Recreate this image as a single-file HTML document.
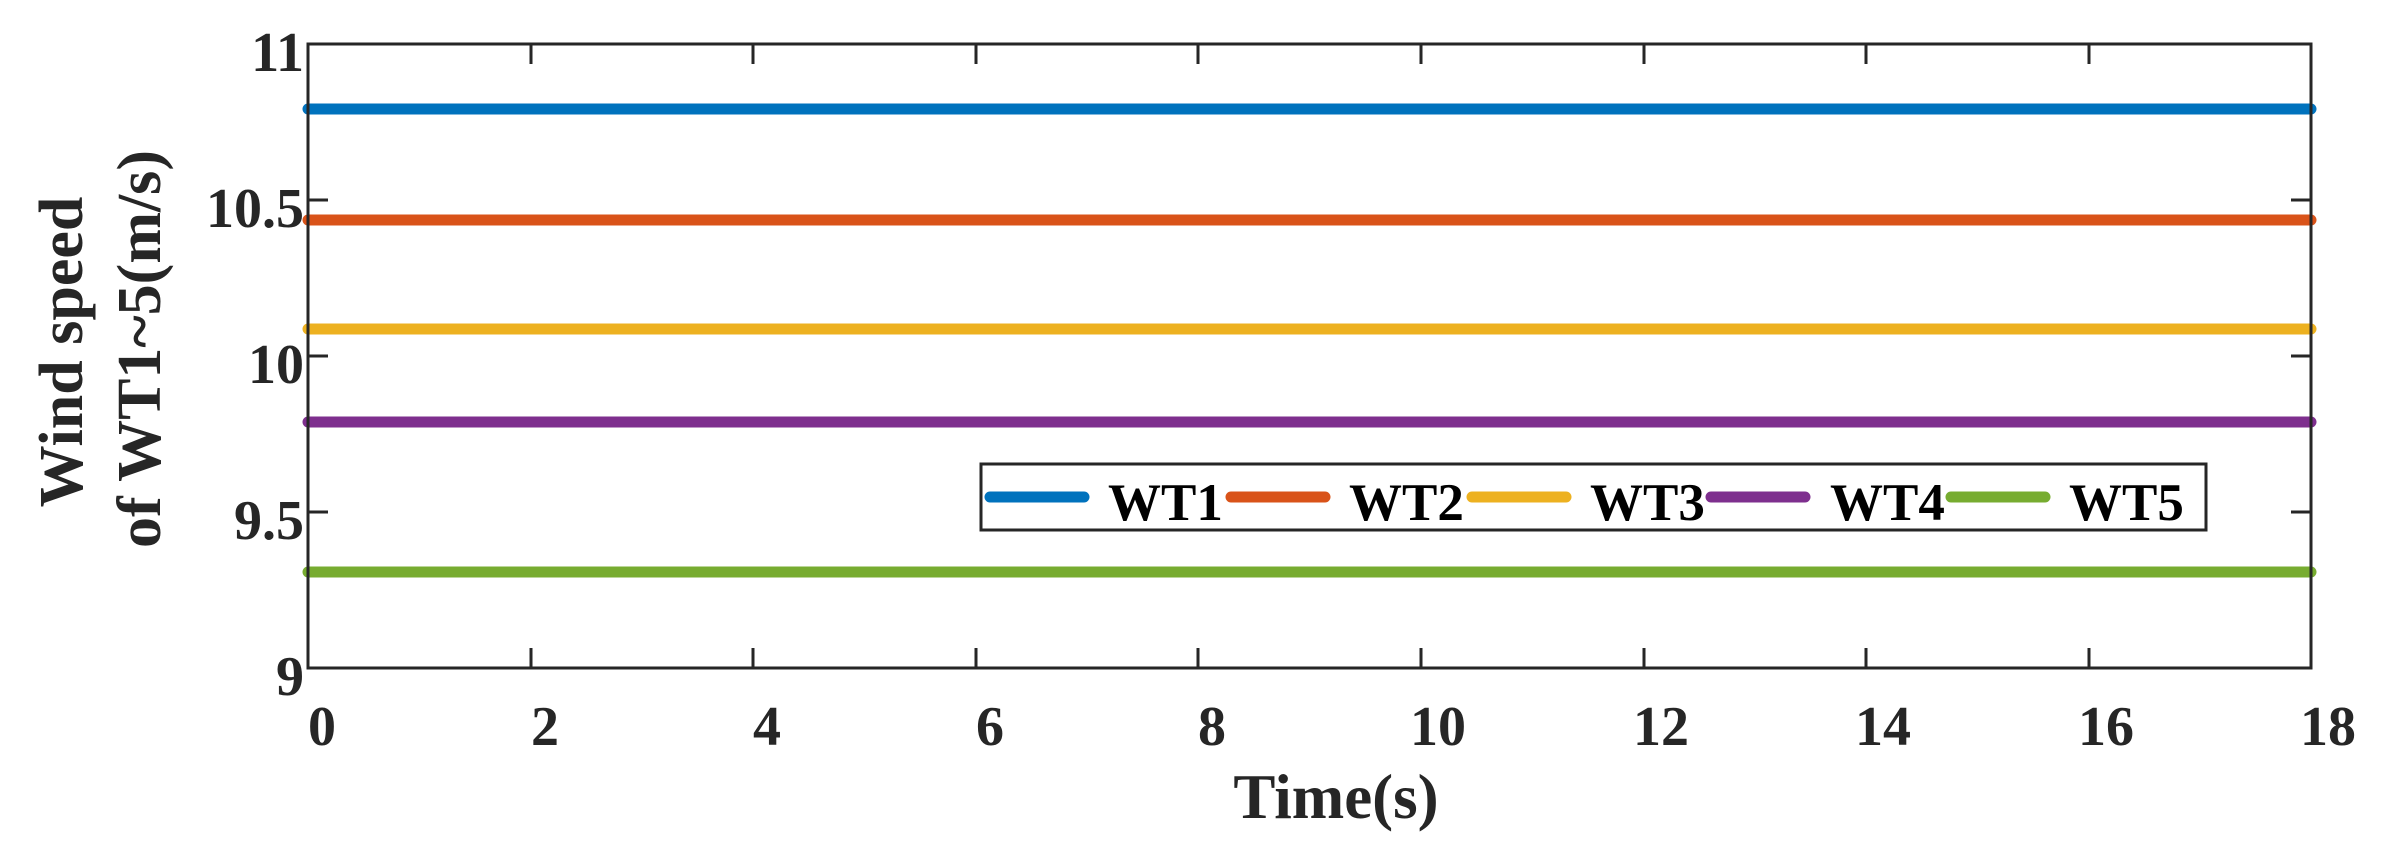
<!DOCTYPE html>
<html><head><meta charset="utf-8"><style>html,body{margin:0;padding:0;background:#fff}svg{display:block}</style></head>
<body>
<svg width="2384" height="851" viewBox="0 0 2384 851" xmlns="http://www.w3.org/2000/svg" font-family="Liberation Serif, serif" font-weight="bold">
<rect width="2384" height="851" fill="#fff"/>
<!-- series -->
<g stroke-width="11" stroke-linecap="round" fill="none">
<line x1="308" y1="109" x2="2311" y2="109" stroke="#0072BD"/>
<line x1="308" y1="220" x2="2311" y2="220" stroke="#D95319"/>
<line x1="308" y1="329" x2="2311" y2="329" stroke="#EDB120"/>
<line x1="308" y1="422" x2="2311" y2="422" stroke="#7E2F8E"/>
<line x1="308" y1="572" x2="2311" y2="572" stroke="#77AC30"/>
</g>
<!-- axes -->
<g stroke="#262626" stroke-width="3" fill="none">
<rect x="308" y="44" width="2003" height="624"/>
<path d="M531 668v-20M753 668v-20M976 668v-20M1198 668v-20M1421 668v-20M1644 668v-20M1866 668v-20M2089 668v-20
M531 44v20M753 44v20M976 44v20M1198 44v20M1421 44v20M1644 44v20M1866 44v20M2089 44v20
M308 512h20M308 356h20M308 200h20M2311 512h-20M2311 356h-20M2311 200h-20"/>
</g>
<g fill="#262626" font-size="56">
<g text-anchor="end">
<text x="304" y="695">9</text>
<text x="304" y="539">9.5</text>
<text x="304" y="383">10</text>
<text x="304" y="227">10.5</text>
<text x="304" y="71">11</text>
</g>
<g text-anchor="middle">
<text x="322" y="745">0</text>
<text x="545" y="745">2</text>
<text x="767" y="745">4</text>
<text x="990" y="745">6</text>
<text x="1212" y="745">8</text>
<text x="1438" y="745">10</text>
<text x="1661" y="745">12</text>
<text x="1883" y="745">14</text>
<text x="2106" y="745">16</text>
<text x="2328" y="745">18</text>
</g>
<text x="1336" y="818" text-anchor="middle" font-size="63">Time(s)</text>
<text transform="translate(82,352) rotate(-90)" text-anchor="middle" font-size="62">Wind speed</text>
<text transform="translate(160,349) rotate(-90)" text-anchor="middle" font-size="62">of WT1~5(m/s)</text>
</g>
<!-- legend -->
<rect x="981" y="464" width="1225" height="66" fill="#fff" stroke="#262626" stroke-width="3"/>
<g stroke-width="11" stroke-linecap="round">
<line x1="990" y1="497" x2="1084" y2="497" stroke="#0072BD"/>
<line x1="1231" y1="497" x2="1325" y2="497" stroke="#D95319"/>
<line x1="1472" y1="497" x2="1566" y2="497" stroke="#EDB120"/>
<line x1="1711" y1="497" x2="1805" y2="497" stroke="#7E2F8E"/>
<line x1="1951" y1="497" x2="2045" y2="497" stroke="#77AC30"/>
</g>
<g fill="#000" font-size="53">
<text x="1108" y="520">WT1</text>
<text x="1349" y="520">WT2</text>
<text x="1590" y="520">WT3</text>
<text x="1830" y="520">WT4</text>
<text x="2069" y="520">WT5</text>
</g>
</svg>
</body></html>
